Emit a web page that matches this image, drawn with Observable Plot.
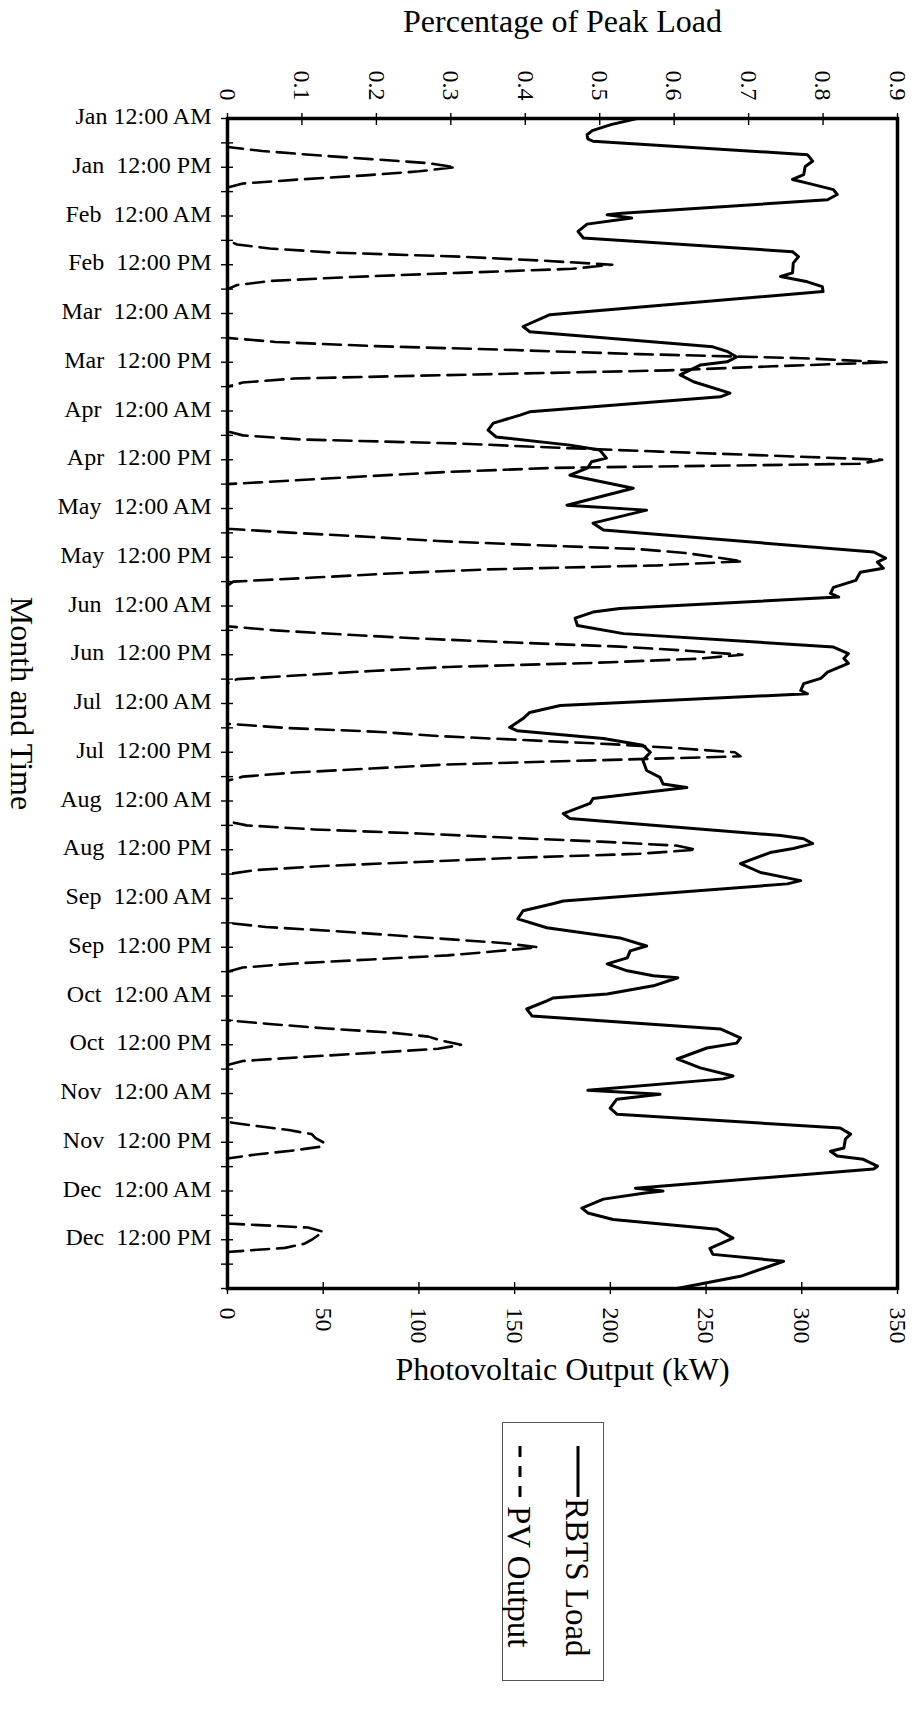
<!DOCTYPE html>
<html>
<head>
<meta charset="utf-8">
<script src="https://cdn.jsdelivr.net/npm/d3@7"></script>
<script src="https://cdn.jsdelivr.net/npm/@observablehq/plot@0.6"></script>
<style>
  html, body { margin: 0; padding: 0; background: #fff; }
  #chart { position: relative; width: 919px; height: 1711px; font-family: "Liberation Serif", "Times New Roman", serif; }
  #legend { position: absolute; left: 502px; top: 1422px; }
</style>
</head>
<body>
<div id="chart"></div>
<script>
// Time axis: one representative day per month, 24 hourly steps each (0 … 288 h)
const timeLabels = [
  "Jan 12:00 AM", "Jan  12:00 PM", "Feb  12:00 AM", "Feb  12:00 PM",
  "Mar  12:00 AM", "Mar  12:00 PM", "Apr  12:00 AM", "Apr  12:00 PM",
  "May  12:00 AM", "May  12:00 PM", "Jun  12:00 AM", "Jun  12:00 PM",
  "Jul  12:00 AM", "Jul  12:00 PM", "Aug  12:00 AM", "Aug  12:00 PM",
  "Sep  12:00 AM", "Sep  12:00 PM", "Oct  12:00 AM", "Oct  12:00 PM",
  "Nov  12:00 AM", "Nov  12:00 PM", "Dec  12:00 AM", "Dec  12:00 PM"
];
const kwTicks = [0, 50, 100, 150, 200, 250, 300, 350];
const peakTicks = [0, 0.1, 0.2, 0.3, 0.4, 0.5, 0.6, 0.7, 0.8, 0.9];

// PV output (kW), hourly values 0:00 … 23:00 for each month's day
const pvJan = [0,0,0,0,0,0,0,0,18,45,75,105,119,100,72,38,8,0,0,0,0,0,0,0];
const pvFeb = [0,0,0,0,0,0,0,5,22,55,121,165,201,180,121,65,22,5,0,0,0,0,0,0];
const pvMar = [0,0,0,0,0,0,0,25,75,150,215,300,345,285,230,130,35,8,0,0,0,0,0,0];
const pvApr = [0,0,0,0,0,0,8,38,121,170,226,285,342,330,170,115,75,38,0,0,0,0,0,0];
const pvMay = [0,0,0,0,0,0,35,75,110,160,215,240,255,269,225,135,85,45,3,0,0,0,0,0];
const pvJun = [0,0,0,0,0,0,25,60,100,150,205,240,269,245,191,115,75,40,5,0,0,0,0,0];
const pvJul = [0,0,0,0,0,0,30,80,110,155,200,235,265,268,191,115,75,35,8,0,0,0,0,0];
const pvAug = [0,0,0,0,0,0,10,45,100,145,195,235,245,215,150,100,50,15,0,0,0,0,0,0];
const pvSep = [0,0,0,0,0,0,0,20,55,85,115,145,162,140,115,75,35,8,0,0,0,0,0,0];
const pvOct = [0,0,0,0,0,0,0,25,52,85,105,112,122,110,75,40,8,0,0,0,0,0,0,0];
const pvNov = [0,0,0,0,0,0,0,0,15,32,44,46,50,50,35,15,0,0,0,0,0,0,0,0];
const pvDec = [0,0,0,0,0,0,0,0,0,42,50,47,44,40,30,0,0,0,0,0,0,0,0,0];

// RBTS load as a share of the annual peak, traced along the time axis
const loadHours = [
  0,1.5,3,4,5,5.6,8.9,10.5,11.8,13.8,15,15.9,17.5,18.7,20,23.3,23.7,24.5,26,27.8,29.4,
  32.8,34,35.6,38,38.9,40.2,41.4,42.6,48.3,49,51.2,52.5,56.2,57.4,58.7,59.9,60.7,63.1,
  64.8,67.6,68.5,72.2,73,75,76.7,78.4,80.4,81.6,83.6,84.5,86,87.8,91,95.2,96.4,99.6,
  101.3,106.7,108.2,109.2,110.7,111.7,113.7,115.4,116.9,117.8,120.6,121.5,123,124.8,
  126.8,130.1,131.7,132.9,134.1,136.3,137.8,139.1,140.8,141.6,144.5,146.2,147.7,149.9,
  150.7,152.6,154.3,156,158,160.5,162.2,163.8,164.7,167.4,168.6,171.1,172.3,176.5,
  177.3,178.5,179.7,180.7,183.4,185.6,187.6,188.4,192.6,193.3,195,197,199.2,201.7,
  203.7,204.9,206.6,208.1,209.8,211,211.5,213.5,215.5,216.5,217.2,219.2,220.9,224.1,
  226.3,227.6,228.8,231.5,233.7,235.7,236.4,239.2,240.2,241.4,243.6,245.1,248.5,250,
  251.2,253.4,254.2,255.4,256.2,257.9,258.6,263.3,264,264.5,266,268.2,269.4,271,273.4,
  275.6,278.1,279.6,281.3,285,288
];
const loadShare = [
  .55,.515,.49,.483,.484,.491,.779,.786,.776,.774,.759,.779,.814,.819,.806,.53,.51,.543,.483,.471,.478,
  .759,.767,.76,.759,.743,.779,.799,.8,.433,.424,.397,.406,.652,.672,.684,.671,.635,.608,
  .626,.675,.662,.406,.393,.357,.35,.361,.46,.5,.509,.489,.484,.46,.545,.456,.563,.491,
  .505,.868,.884,.873,.881,.85,.844,.814,.81,.821,.527,.491,.467,.47,
  .532,.814,.834,.828,.834,.806,.797,.774,.77,.779,.447,.406,.397,.379,
  .389,.505,.558,.568,.558,.563,.581,.585,.617,.491,.487,.451,.46,.743,
  .774,.786,.76,.729,.689,.716,.77,.752,.451,.437,.397,.39,.429,.527,
  .563,.541,.537,.51,.537,.572,.605,.572,.51,.437,.429,.402,.409,.662,
  .689,.684,.644,.604,.635,.679,.666,.484,.581,.523,.514,.523,.823,.837,
  .83,.828,.81,.819,.854,.873,.868,.548,.585,.561,.505,.476,.484,.518,.658,
  .679,.648,.652,.747,.689,.604
];

const legendNames = ["RBTS Load", "PV Output"];

// 0.9 of peak load sits on the same gridline as 350 kW
const kwPerShare = 350 / 0.9;

const pvMonths = [pvJan, pvFeb, pvMar, pvApr, pvMay, pvJun, pvJul, pvAug, pvSep, pvOct, pvNov, pvDec];
const pvSeries = pvMonths.flatMap((day, m) => day.map((kw, i) => ({hour: m * 24 + i, kw})));
const loadSeries = loadHours.map((hour, i) => ({hour, kw: loadShare[i] * kwPerShare}));

const labelHours = timeLabels.map((_, i) => i * 12);
const tickHours = d3.range(0, 289, 6);
const peakTickKw = peakTicks.map(p => p * kwPerShare);
const fmtLabel = d => timeLabels[Math.round(d / 12)].replace("  ", "\u00a0\u00a0");
const fmtShare = d => d3.format(".1~f")(d / kwPerShare);

const serif = "'Liberation Serif', 'Times New Roman', serif";

const chart = Plot.plot({
  width: 919,
  height: 1400,
  marginTop: 118,
  marginRight: 22,
  marginBottom: 112,
  marginLeft: 227,
  style: {fontFamily: serif, fontSize: "24px", background: "#fff", color: "#000", overflow: "visible"},
  x: {domain: [0, 350], label: null},
  y: {domain: [0, 288], reverse: true, label: null},
  marks: [
    Plot.line(pvSeries, {x: "kw", y: "hour", stroke: "#000", strokeWidth: 2.6, strokeDasharray: "18,8"}),
    Plot.line(loadSeries, {x: "kw", y: "hour", stroke: "#000", strokeWidth: 3, strokeLinejoin: "round"}),
    Plot.frame({stroke: "#000", strokeWidth: 3.5}),

    // month / time labels and the crossing ticks every six hours
    Plot.axisY({ticks: labelHours, tickFormat: fmtLabel, tickSize: 0, tickPadding: 16, dy: -2, fontSize: 24, label: null}),
    Plot.axisY({ticks: tickHours, tickFormat: () => "", tickSize: 12, dx: 6, strokeWidth: 1.4, label: null}),

    // PV output scale (bottom)
    Plot.axisX({anchor: "bottom", ticks: kwTicks, tickFormat: d => String(d), tickRotate: 90, tickSize: 0, tickPadding: 19, fontSize: 24, label: null}),
    Plot.axisX({anchor: "bottom", ticks: kwTicks, tickFormat: () => "", tickSize: 12, dy: -6, strokeWidth: 1.4, label: null}),

    // share of peak load scale (top)
    Plot.axisX({anchor: "top", ticks: peakTickKw, tickFormat: fmtShare, tickRotate: 90, tickSize: 0, tickPadding: 18, fontSize: 24, label: null}),
    Plot.axisX({anchor: "top", ticks: peakTickKw, tickFormat: () => "", tickSize: 12, dy: 6, strokeWidth: 1.4, label: null}),

    // axis titles
    Plot.text(["Percentage of Peak Load"], {frameAnchor: "top", dy: -97, fontSize: 32, textAnchor: "middle", lineAnchor: "middle"}),
    Plot.text(["Photovoltaic Output (kW)"], {frameAnchor: "bottom", dy: 81, fontSize: 32, textAnchor: "middle", lineAnchor: "middle"}),
    Plot.text(["Month and Time"], {frameAnchor: "left", dx: -206, rotate: 90, fontSize: 32, textAnchor: "middle", lineAnchor: "middle"})
  ]
});
document.getElementById("chart").appendChild(chart);

// Legend box, turned a quarter turn like the rest of the figure
const lw = 102, lh = 259;
const legend = d3.select("#chart").append("svg")
  .attr("id", "legend")
  .attr("width", lw)
  .attr("height", lh)
  .style("font-family", serif);
legend.append("rect")
  .attr("x", 0.5).attr("y", 0.5)
  .attr("width", lw - 1).attr("height", lh - 1)
  .attr("fill", "#fff").attr("stroke", "#555").attr("stroke-width", 1);
const lg = legend.append("g").attr("transform", `translate(${lw},0) rotate(90)`);
const legendDash = [null, "11,9"];
legendNames.forEach((name, i) => {
  const v = 26 + i * 58;
  lg.append("line")
    .attr("x1", 24).attr("x2", 75).attr("y1", v).attr("y2", v)
    .attr("stroke", "#000").attr("stroke-width", 3)
    .attr("stroke-dasharray", legendDash[i]);
  lg.append("text")
    .attr("x", i === 0 ? 76 : 84).attr("y", v).attr("dy", "0.35em")
    .attr("font-size", 33).attr("fill", "#000")
    .text(name);
});
</script>
</body>
</html>
